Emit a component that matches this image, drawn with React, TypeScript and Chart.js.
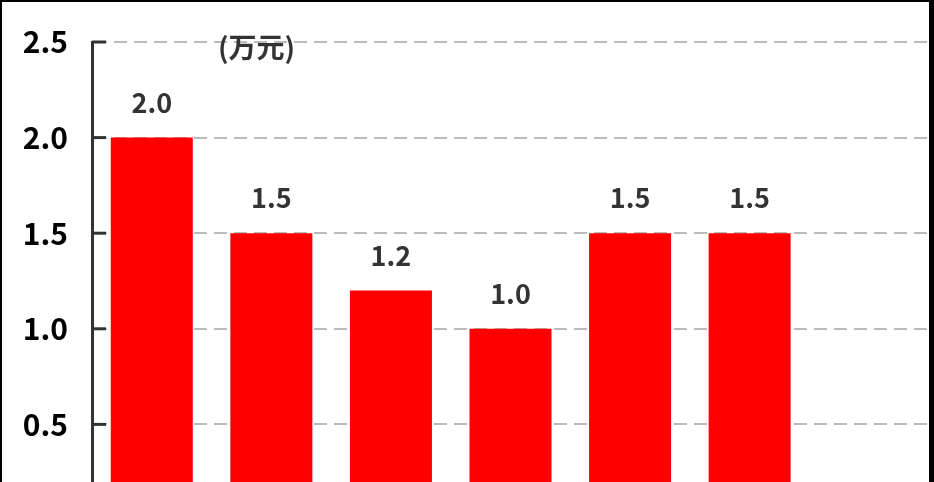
import React, { useEffect, useRef } from 'react';
import { Chart, registerables } from 'chart.js';

Chart.register(...registerables);

// categories (x labels sit below the visible area), last slot is empty
const categories = ['项目1', '项目2', '项目3', '项目4', '项目5', '项目6', '项目7'];
const values: (number | null)[] = [2.0, 1.5, 1.2, 1.0, 1.5, 1.5, null];
const unitLabel = '(万元)';
const yMax = 2.5;
const yStep = 0.5;

const FONT = "'Noto Sans CJK SC', 'Noto Sans', sans-serif";

// small inward tick stubs on the y axis + unit text + value labels
const decorPlugin = {
    id: 'decor',
    afterDatasetsDraw(chart: any) {
        const { ctx, chartArea } = chart;
        const y = chart.scales.y;
        ctx.save();
        ctx.strokeStyle = '#333333';
        ctx.lineWidth = 3;
        y.ticks.forEach((t: any) => {
            const py = y.getPixelForValue(t.value);
            ctx.beginPath();
            ctx.moveTo(chartArea.left, py);
            ctx.lineTo(chartArea.left + 14, py);
            ctx.stroke();
        });

        ctx.fillStyle = '#333333';
        ctx.font = `bold 27px ${FONT}`;
        ctx.textAlign = 'center';
        ctx.textBaseline = 'alphabetic';
        const meta = chart.getDatasetMeta(0);
        meta.data.forEach((bar: any, i: number) => {
            const v = values[i];
            if (v == null) return;
            ctx.fillText(v.toFixed(1), bar.x, bar.y - 25);
        });

        ctx.font = `bold 28px ${FONT}`;
        ctx.textAlign = 'left';
        ctx.textBaseline = 'middle';
        ctx.fillText(unitLabel, chartArea.left + 126, chartArea.top + 5);
        ctx.restore();
    },
};

const BarChart: React.FC = () => {
    const chartRef = useRef<HTMLCanvasElement>(null);
    const chartInstance = useRef<Chart | null>(null);

    useEffect(() => {
        if (!chartRef.current) return;
        const ctx = chartRef.current.getContext('2d');
        if (!ctx) return;
        if (chartInstance.current) chartInstance.current.destroy();

        chartInstance.current = new Chart(ctx, {
            type: 'bar',
            data: {
                labels: categories,
                datasets: [
                    {
                        data: values as any,
                        backgroundColor: '#ff0000',
                        borderWidth: 0,
                        categoryPercentage: 1,
                        barPercentage: 0.686,
                    },
                ],
            },
            options: {
                animation: false,
                responsive: true,
                maintainAspectRatio: false,
                layout: { padding: { top: 40, left: 0, right: 0, bottom: 72 } },
                scales: {
                    x: {
                        offset: true,
                        grid: { display: false },
                        border: { display: false },
                        ticks: { display: false },
                    },
                    y: {
                        min: 0,
                        max: yMax,
                        afterFit: (scale: any) => {
                            scale.width = 90;
                            scale.paddingTop = 0;
                            scale.paddingBottom = 0;
                        },
                        ticks: {
                            stepSize: yStep,
                            padding: 24,
                            color: '#000000',
                            font: { family: FONT, size: 30, weight: 'bold', lineHeight: 1 },
                            callback: (v: any) => Number(v).toFixed(1),
                        },
                        grid: {
                            color: '#bbbbbb',
                            lineWidth: 2,
                            drawTicks: false,
                        },
                        border: {
                            display: true,
                            color: '#333333',
                            width: 3,
                            dash: [13, 7],
                        },
                    },
                },
                plugins: {
                    legend: { display: false },
                    title: { display: false },
                    tooltip: { enabled: false },
                },
            },
            plugins: [decorPlugin],
        });

        return () => {
            if (chartInstance.current) {
                chartInstance.current.destroy();
                chartInstance.current = null;
            }
        };
    }, []);

    return (
        <div style={{ position: 'fixed', left: 0, top: 0, width: 934, height: 482, overflow: 'hidden', background: '#fff' }}>
            <div
                style={{
                    boxSizing: 'border-box',
                    width: 934,
                    height: 620,
                    borderTop: '2px solid #000',
                    borderLeft: '2px solid #000',
                    borderRight: '5px solid #000',
                }}
            >
                <div style={{ position: 'relative', width: 927, height: 598 }}>
                    <canvas ref={chartRef}></canvas>
                </div>
            </div>
        </div>
    );
};

export default function App() {
    return <BarChart />;
}
